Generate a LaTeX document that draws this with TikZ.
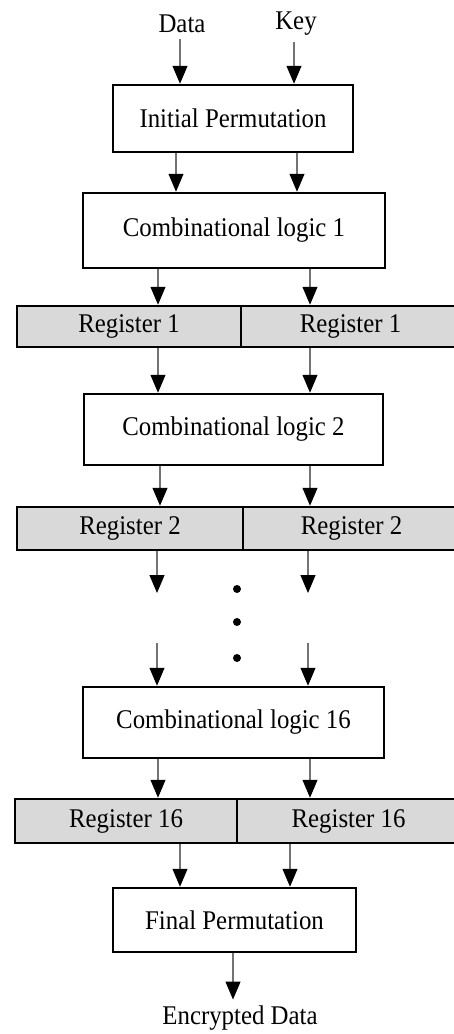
\documentclass[tikz,border=0pt]{standalone}
\usepackage{fontspec}
\setmainfont[FakeStretch = 0.92]{Liberation Serif}
\usetikzlibrary{arrows.meta}
\tikzstyle{des_text} = [inner sep = 0, font = \fontsize{27}{30}\selectfont]
\tikzstyle{des_block} = [des_text, draw, line width = 2.5, fill = white]
\tikzstyle{des_register} = [des_text, draw, line width = 2.5, fill = black!15]
\tikzstyle{des_arrow} = [draw = black!55, line width = 1.2, -{Triangle[width = 15pt, length = 18pt, color = black]}]
\tikzstyle{des_dot} = [circle, fill = black, inner sep = 0, minimum size = 8]

\begin{document}
\begin{tikzpicture}[x = 1pt, y = -1pt]
        \useasboundingbox (0, 0) rectangle (454, 1034);

        % inputs
        \node [des_text] (data) at (182, 24) {Data};
        \node [des_text] (key) at (296, 24) {Key};
        \node [des_block, minimum width = 240, minimum height = 67] (ip) at (233, 118.5) {Initial Permutation};
        \draw [des_arrow, shorten < = 6] (data.south -| 180,0) -- (ip.north -| 180,0);
        \draw [des_arrow, shorten < = 6] (key.south -| 294,0) -- (ip.north -| 294,0);

        % round 1
        \node [des_block, minimum width = 302, minimum height = 75] (cl1) at (234, 230.5) {Combinational logic 1};
        \node [des_register, minimum width = 224, minimum height = 41] (reg1a) at (129, 326.5) {Register 1};
        \node [des_register, minimum width = 219, minimum height = 41] (reg1b) at (350.5, 326.5) {Register 1};
        \draw [des_arrow] (ip.south -| 176,0) -- (cl1.north -| 176,0);
        \draw [des_arrow] (ip.south -| 297,0) -- (cl1.north -| 297,0);
        \draw [des_arrow] (cl1.south -| 158,0) -- (reg1a.north -| 158,0);
        \draw [des_arrow] (cl1.south -| 310,0) -- (reg1b.north -| 310,0);

        % round 2
        \node [des_block, minimum width = 299, minimum height = 71] (cl2) at (233.5, 429.5) {Combinational logic 2};
        \node [des_register, minimum width = 226, minimum height = 43] (reg2a) at (130, 528.5) {Register 2};
        \node [des_register, minimum width = 217, minimum height = 43] (reg2b) at (351.5, 528.5) {Register 2};
        \draw [des_arrow] (reg1a.south -| 158,0) -- (cl2.north -| 158,0);
        \draw [des_arrow] (reg1b.south -| 310,0) -- (cl2.north -| 310,0);
        \draw [des_arrow] (cl2.south -| 160,0) -- (reg2a.north -| 160,0);
        \draw [des_arrow] (cl2.south -| 310,0) -- (reg2b.north -| 310,0);

        % rounds 3 to 15
        \coordinate (gap_out_a) at (157, 593);
        \coordinate (gap_out_b) at (308, 593);
        \coordinate (gap_in_a) at (157, 643);
        \coordinate (gap_in_b) at (308, 643);
        \draw [des_arrow] (reg2a.south -| 157,0) -- (gap_out_a);
        \draw [des_arrow] (reg2b.south -| 308,0) -- (gap_out_b);
        \node [des_dot] (dot1) at (237, 589) {};
        \node [des_dot] (dot2) at (237, 622) {};
        \node [des_dot] (dot3) at (237, 658) {};

        % round 16
        \node [des_block, minimum width = 301, minimum height = 71] (cl16) at (233.5, 722.5) {Combinational logic 16};
        \node [des_register, minimum width = 222, minimum height = 44] (reg16a) at (126, 821) {Register 16};
        \node [des_register, minimum width = 223, minimum height = 44] (reg16b) at (348.5, 821) {Register 16};
        \draw [des_arrow] (gap_in_a) -- (cl16.north -| 157,0);
        \draw [des_arrow] (gap_in_b) -- (cl16.north -| 308,0);
        \draw [des_arrow] (cl16.south -| 158,0) -- (reg16a.north -| 158,0);
        \draw [des_arrow] (cl16.south -| 310,0) -- (reg16b.north -| 310,0);

        % output
        \node [des_block, minimum width = 243, minimum height = 64] (fp) at (234.5, 920) {Final Permutation};
        \node [des_text] (enc) at (240, 1018) {Encrypted Data};
        \draw [des_arrow] (reg16a.south -| 180,0) -- (fp.north -| 180,0);
        \draw [des_arrow] (reg16b.south -| 290,0) -- (fp.north -| 290,0);
        \draw [des_arrow, shorten > = 6] (fp.south -| 233,0) -- (enc.north -| 233,0);
    \end{tikzpicture}
\end{document}
